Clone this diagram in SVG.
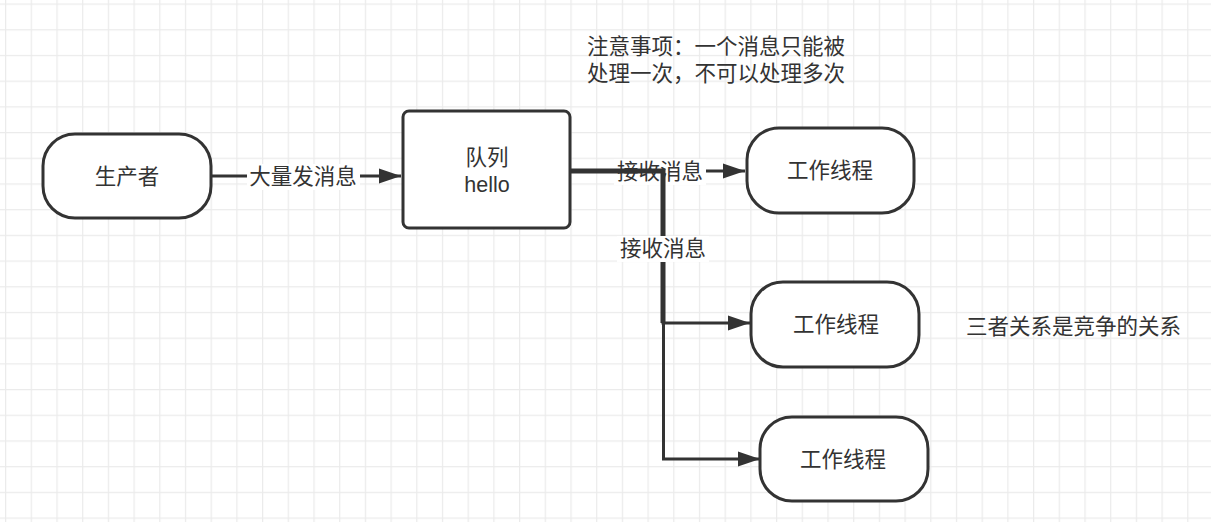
<svg xmlns="http://www.w3.org/2000/svg" width="1211" height="522" viewBox="0 0 1211 522">
<defs>
<pattern id="grid" patternUnits="userSpaceOnUse" x="5" y="3.5" width="25.7" height="25.7">
<path d="M0.5,0 V25.7 M0,0.5 H25.7" fill="none" stroke="#ebebeb" stroke-width="1.5"/>
</pattern>
<marker id="arr" markerUnits="userSpaceOnUse" viewBox="0 0 22 16" refX="22" refY="8" markerWidth="22" markerHeight="16" orient="auto">
<path d="M0,0.5 L22,8 L0,15.5 Z" fill="#333"/>
</marker>
<style>
.node{fill:#fff;stroke:#333;stroke-width:3}
.t{font-family:"Liberation Sans","Noto Sans CJK SC",sans-serif;font-size:21.5px;fill:#333;text-anchor:middle;dominant-baseline:central}
.note{font-family:"Liberation Sans","Noto Sans CJK SC",sans-serif;font-size:21.5px;fill:#333}
.edge{fill:none;stroke:#333;stroke-width:3}
.thick{fill:none;stroke:#333;stroke-width:5}
.lbg{fill:#fff}
</style>
</defs>
<rect width="1211" height="522" fill="#fff"/>
<rect width="1211" height="522" fill="url(#grid)"/>

<g id="connectors">
<path class="edge" d="M211,176 H401" marker-end="url(#arr)"/>
<rect class="lbg" x="247" y="164" width="113" height="26"/>
<text class="t" x="303" y="177">大量发消息</text>
<path class="edge" d="M570,171 H745" marker-end="url(#arr)"/>
<rect class="lbg" x="614" y="159" width="92" height="26"/>
<text class="t" x="660" y="172">接收消息</text>
<path class="thick" d="M570,171 H663 V323"/>
<path class="edge" d="M663,320 V323 H750" marker-end="url(#arr)"/>
<path class="edge" d="M663.5,320 V459 H760" marker-end="url(#arr)"/>
<rect class="lbg" x="617" y="236" width="92" height="26"/>
<text class="t" x="663" y="249">接收消息</text>
</g>

<g id="producer">
<rect class="node" x="43" y="134" width="168" height="84" rx="32"/>
<text class="t" x="127" y="177">生产者</text>
</g>

<g id="queue">
<rect class="node" x="403" y="111" width="167" height="117" rx="6"/>
<text class="t" x="487" y="158">队列</text>
<text class="t" x="487" y="185">hello</text>
</g>

<g id="worker1">
<rect class="node" x="747" y="128" width="167" height="85" rx="32"/>
<text class="t" x="830" y="171">工作线程</text>
</g>

<g id="worker2">
<rect class="node" x="751" y="282" width="168" height="85" rx="32"/>
<text class="t" x="836" y="325">工作线程</text>
</g>

<g id="worker3">
<rect class="node" x="760" y="417" width="168" height="84" rx="32"/>
<text class="t" x="843" y="460">工作线程</text>
</g>

<g id="note1">
<text class="note" x="587" y="54">注意事项：一个消息只能被</text>
<text class="note" x="587" y="81">处理一次，不可以处理多次</text>
</g>

<g id="note2">
<text class="note" x="966" y="334">三者关系是竞争的关系</text>
</g>
</svg>
